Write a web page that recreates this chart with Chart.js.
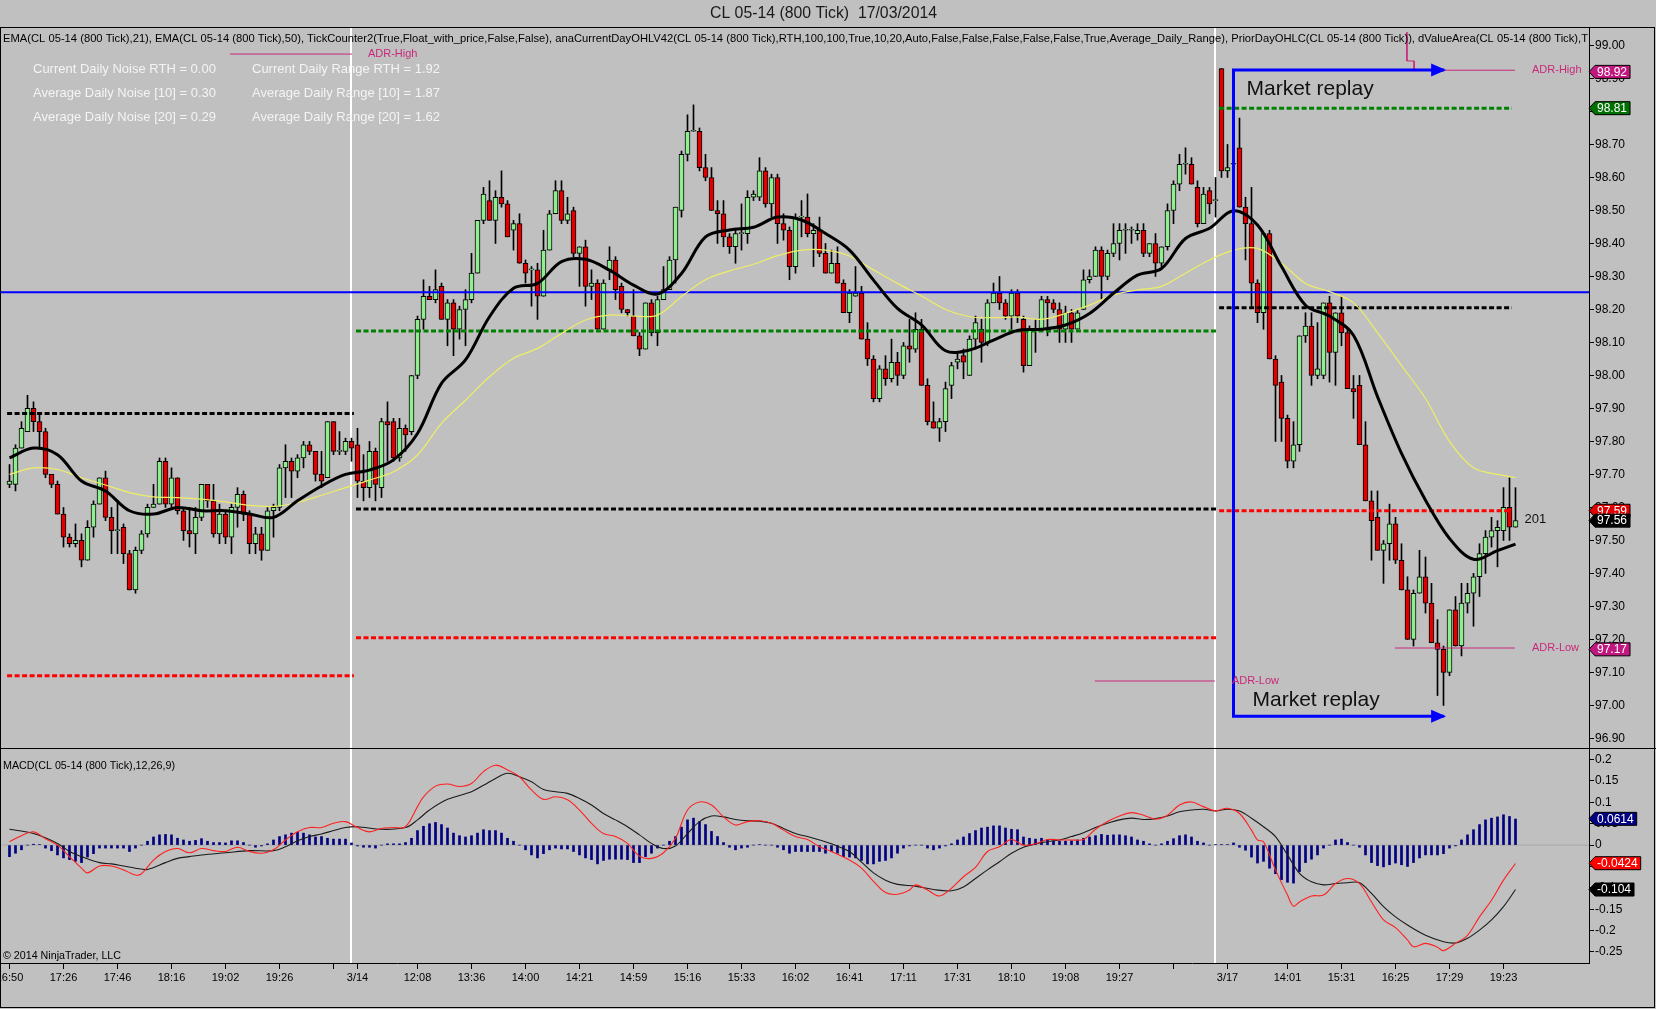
<!DOCTYPE html>
<html lang="en">
<head>
<meta charset="UTF-8">
<title>CL 05-14 (800 Tick) 17/03/2014</title>
<script src="https://cdn.jsdelivr.net/npm/chart.js"></script>
<style>
  html, body { margin: 0; padding: 0; background: #c0c0c0; }
  #chart { display: block; }
</style>
</head>
<body>
<canvas id="chart" width="1656" height="1009"></canvas>
<script>
// ---------- data ----------
const opens = [
  97.67,97.67,97.78,97.83,97.90,97.86,97.83,97.70,97.67,97.58,97.51,97.49,
  97.50,97.44,97.54,97.61,97.69,97.57,97.53,97.54,97.46,97.35,97.47,97.52,
  97.60,97.61,97.74,97.61,97.69,97.59,97.53,97.52,97.57,97.67,97.62,97.52,
  97.58,97.51,97.60,97.64,97.58,97.49,97.52,97.47,97.59,97.60,97.72,97.74,
  97.71,97.75,97.79,97.77,97.70,97.69,97.86,97.77,97.77,97.80,97.79,97.68,
  97.66,97.77,97.66,97.86,97.86,97.75,97.84,97.83,98.00,98.17,98.24,98.23,
  98.27,98.17,98.22,98.14,98.20,98.23,98.31,98.47,98.53,98.47,98.54,98.52,
  98.44,98.46,98.34,98.32,98.32,98.24,98.38,98.49,98.56,98.47,98.50,98.37,
  98.39,98.27,98.28,98.14,98.32,98.35,98.27,98.20,98.18,98.12,98.08,98.22,
  98.13,98.23,98.26,98.35,98.50,98.67,98.74,98.74,98.63,98.60,98.50,98.49,
  98.42,98.39,98.43,98.43,98.54,98.54,98.62,98.52,98.60,98.46,98.44,98.33,
  98.48,98.48,98.43,98.44,98.37,98.31,98.34,98.28,98.19,98.24,98.25,98.11,
  98.05,97.93,98.02,97.99,98.04,98.00,98.09,98.08,98.14,97.97,97.86,97.84,
  97.86,97.97,98.04,98.06,98.00,98.11,98.14,98.10,98.22,98.25,98.22,98.18,
  98.25,98.17,98.03,98.14,98.14,98.23,98.22,98.20,98.14,98.19,98.14,98.20,
  98.29,98.30,98.38,98.30,98.37,98.40,98.44,98.44,98.43,98.44,98.37,98.40,
  98.34,98.39,98.50,98.58,98.64,98.64,98.57,98.46,98.56,98.53,98.93,98.62,
  98.64,98.69,98.51,98.46,98.28,98.19,98.43,98.05,97.98,97.87,97.74,97.79,
  98.12,98.15,98.00,98.00,98.22,98.07,98.19,98.13,97.96,97.97,97.79,97.62,
  97.57,97.47,97.49,97.55,97.44,97.35,97.20,97.34,97.39,97.31,97.19,97.17,
  97.10,97.29,97.18,97.31,97.34,97.39,97.46,97.51,97.53,97.53,97.60,97.54
];
const highs = [
  97.73,97.79,97.86,97.94,97.92,97.88,97.84,97.70,97.68,97.60,97.52,97.55,
  97.52,97.56,97.62,97.69,97.71,97.60,97.62,97.55,97.47,97.48,97.53,97.61,
  97.67,97.75,97.75,97.72,97.69,97.60,97.60,97.60,97.67,97.67,97.67,97.61,
  97.59,97.61,97.66,97.65,97.59,97.54,97.54,97.60,97.61,97.73,97.79,97.75,
  97.76,97.80,97.80,97.77,97.77,97.86,97.86,97.83,97.81,97.81,97.84,97.76,
  97.80,97.78,97.87,97.92,97.87,97.87,97.85,98.00,98.18,98.29,98.27,98.32,
  98.28,98.23,98.23,98.21,98.26,98.37,98.47,98.57,98.59,98.56,98.62,98.53,
  98.47,98.49,98.35,98.33,98.34,98.44,98.50,98.59,98.59,98.54,98.51,98.39,
  98.41,98.32,98.29,98.29,98.39,98.36,98.28,98.20,98.26,98.13,98.22,98.23,
  98.24,98.33,98.36,98.51,98.68,98.79,98.82,98.75,98.67,98.63,98.53,98.53,
  98.43,98.44,98.52,98.56,98.56,98.66,98.63,98.61,98.61,98.49,98.45,98.49,
  98.53,98.55,98.46,98.48,98.40,98.38,98.39,98.29,98.26,98.33,98.27,98.16,
  98.06,98.03,98.06,98.11,98.07,98.10,98.17,98.19,98.17,97.99,97.92,97.87,
  97.98,98.04,98.07,98.08,98.12,98.18,98.17,98.23,98.28,98.30,98.23,98.26,
  98.26,98.18,98.15,98.17,98.24,98.24,98.23,98.22,98.21,98.20,98.20,98.32,
  98.32,98.39,98.39,98.38,98.46,98.46,98.46,98.45,98.46,98.46,98.40,98.43,
  98.39,98.52,98.59,98.67,98.69,98.66,98.59,98.57,98.57,98.60,98.93,98.70,
  98.70,98.78,98.54,98.57,98.29,98.43,98.44,98.06,98.00,97.88,97.86,98.12,
  98.19,98.19,98.16,98.22,98.24,98.19,98.24,98.14,98.00,98.00,97.86,97.65,
  97.65,97.50,97.61,97.57,97.49,97.39,97.35,97.47,97.45,97.37,97.26,97.18,
  97.29,97.33,97.37,97.37,97.40,97.49,97.53,97.57,97.56,97.66,97.69,97.66
];
const lows = [
  97.66,97.65,97.78,97.83,97.83,97.78,97.69,97.66,97.58,97.48,97.48,97.48,
  97.42,97.44,97.51,97.61,97.56,97.46,97.46,97.43,97.35,97.34,97.46,97.51,
  97.60,97.61,97.60,97.60,97.58,97.50,97.48,97.46,97.56,97.60,97.51,97.49,
  97.49,97.46,97.54,97.56,97.46,97.46,97.44,97.47,97.51,97.59,97.63,97.63,
  97.69,97.72,97.76,97.68,97.66,97.69,97.76,97.76,97.76,97.74,97.63,97.62,
  97.63,97.62,97.63,97.74,97.74,97.74,97.77,97.82,97.99,98.14,98.23,98.22,
  98.17,98.09,98.06,98.11,98.09,98.22,98.31,98.46,98.47,98.40,98.51,98.42,
  98.38,98.34,98.28,98.21,98.17,98.24,98.38,98.49,98.46,98.46,98.36,98.27,
  98.21,98.23,98.14,98.14,98.29,98.23,98.19,98.18,98.12,98.06,98.08,98.12,
  98.09,98.23,98.26,98.28,98.48,98.65,98.74,98.62,98.59,98.50,98.40,98.39,
  98.37,98.34,98.38,98.40,98.53,98.53,98.51,98.48,98.40,98.41,98.29,98.31,
  98.42,98.42,98.33,98.36,98.31,98.31,98.28,98.19,98.16,98.24,98.11,98.03,
  97.92,97.92,97.97,97.98,97.97,97.99,98.04,98.07,97.97,97.85,97.84,97.80,
  97.83,97.93,98.02,97.99,98.00,98.08,98.04,98.09,98.22,98.20,98.17,98.14,
  98.16,98.01,98.03,98.07,98.14,98.12,98.19,98.10,98.10,98.10,98.14,98.20,
  98.28,98.30,98.23,98.29,98.36,98.35,98.37,98.40,98.41,98.36,98.36,98.30,
  98.33,98.38,98.46,98.56,98.61,98.58,98.45,98.46,98.49,98.48,98.60,98.60,
  98.62,98.51,98.35,98.21,98.16,98.14,98.05,97.80,97.80,97.72,97.72,97.77,
  98.10,97.97,97.99,97.99,97.98,97.97,98.09,97.96,97.87,97.79,97.62,97.44,
  97.47,97.37,97.44,97.43,97.35,97.20,97.18,97.34,97.28,97.19,97.03,97.00,
  97.09,97.18,97.15,97.28,97.24,97.33,97.40,97.48,97.42,97.50,97.50,97.54
];
const closes = [
  97.68,97.78,97.84,97.90,97.86,97.83,97.70,97.67,97.58,97.51,97.49,97.50,
  97.44,97.54,97.61,97.69,97.57,97.53,97.53,97.46,97.35,97.47,97.52,97.60,
  97.61,97.74,97.61,97.69,97.59,97.53,97.52,97.57,97.67,97.62,97.52,97.58,
  97.51,97.60,97.64,97.58,97.49,97.52,97.47,97.59,97.60,97.72,97.74,97.71,
  97.75,97.79,97.77,97.70,97.68,97.86,97.77,97.77,97.80,97.78,97.68,97.66,
  97.77,97.67,97.86,97.85,97.75,97.84,97.82,98.00,98.17,98.24,98.23,98.26,
  98.17,98.22,98.14,98.20,98.23,98.31,98.47,98.55,98.47,98.54,98.52,98.42,
  98.46,98.34,98.31,98.32,98.24,98.38,98.49,98.56,98.47,98.49,98.37,98.39,
  98.27,98.28,98.14,98.28,98.35,98.26,98.20,98.19,98.12,98.08,98.22,98.13,
  98.23,98.26,98.35,98.51,98.67,98.74,98.74,98.63,98.60,98.50,98.49,98.42,
  98.39,98.43,98.43,98.54,98.55,98.62,98.52,98.60,98.46,98.44,98.33,98.48,
  98.48,98.43,98.44,98.37,98.31,98.34,98.28,98.19,98.25,98.25,98.11,98.05,
  97.93,98.02,97.99,98.04,98.00,98.09,98.08,98.14,97.97,97.86,97.84,97.86,
  97.96,98.03,98.05,98.04,98.11,98.16,98.10,98.22,98.25,98.22,98.18,98.25,
  98.18,98.03,98.14,98.14,98.23,98.22,98.20,98.14,98.19,98.14,98.19,98.29,
  98.30,98.38,98.30,98.37,98.40,98.44,98.44,98.44,98.44,98.37,98.40,98.34,
  98.39,98.50,98.58,98.64,98.64,98.58,98.46,98.55,98.52,98.53,98.62,98.63,
  98.64,98.51,98.46,98.28,98.19,98.43,98.05,97.97,97.87,97.74,97.79,98.12,
  98.15,98.00,98.02,98.22,98.07,98.19,98.13,97.96,97.95,97.79,97.62,97.56,
  97.47,97.49,97.55,97.44,97.35,97.20,97.34,97.39,97.31,97.19,97.17,97.10,
  97.29,97.18,97.31,97.34,97.39,97.46,97.51,97.53,97.54,97.60,97.54,97.56
];

// EMA samples as [bar, price]
const ema21 = [[0,97.75],[4,97.78],[8,97.76],[12,97.68],[16,97.65],[20,97.59],[24,97.58],[28,97.60],[32,97.59],[36,97.59],[40,97.58],[44,97.57],[48,97.62],[52,97.665],[56,97.70],[60,97.713],[64,97.744],[68,97.824],[72,97.976],[76,98.047],[80,98.178],[84,98.264],[88,98.279],[92,98.345],[96,98.352],[100,98.319],[104,98.274],[108,98.247],[112,98.309],[116,98.42],[120,98.441],[124,98.449],[128,98.48],[132,98.471],[136,98.43],[140,98.38],[144,98.289],[148,98.203],[152,98.153],[156,98.075],[160,98.077],[164,98.107],[168,98.136],[172,98.14],[176,98.153],[180,98.188],[184,98.249],[188,98.304],[192,98.324],[196,98.415],[200,98.446],[204,98.499],[208,98.456],[212,98.33],[216,98.213],[220,98.18],[224,98.122],[228,97.936],[232,97.764],[236,97.622],[240,97.506],[244,97.443],[248,97.469],[251,97.489]];
const ema50 = [[0,97.70],[4,97.72],[8,97.715],[12,97.69],[16,97.668],[20,97.645],[24,97.632],[28,97.63],[32,97.625],[36,97.617],[40,97.606],[44,97.603],[48,97.615],[52,97.637],[56,97.66],[60,97.683],[64,97.708],[68,97.759],[72,97.855],[76,97.925],[80,97.996],[84,98.052],[88,98.082],[92,98.127],[96,98.168],[100,98.183],[104,98.18],[108,98.183],[112,98.239],[116,98.29],[120,98.317],[124,98.337],[128,98.363],[132,98.38],[136,98.38],[140,98.362],[144,98.32],[148,98.279],[152,98.241],[156,98.20],[160,98.178],[164,98.175],[168,98.177],[172,98.17],[176,98.188],[180,98.213],[184,98.244],[188,98.259],[192,98.27],[196,98.31],[200,98.35],[204,98.38],[208,98.385],[212,98.34],[216,98.279],[220,98.254],[224,98.22],[228,98.13],[232,98.03],[236,97.93],[240,97.80],[244,97.72],[248,97.70],[251,97.69]];

// MACD(12,26,9): line, signal as [bar, value]; histogram per bar
const macdLine = [[0,0.008],[2,0.022],[4,0.031],[6,0.015],[8,0.0],[10,-0.027],[12,-0.054],[13,-0.065],[15,-0.049],[17,-0.049],[19,-0.058],[21,-0.070],[22,-0.067],[24,-0.035],[26,-0.015],[28,-0.008],[30,-0.018],[32,-0.008],[34,-0.013],[36,-0.015],[38,-0.005],[40,-0.015],[42,-0.019],[44,-0.011],[46,0.012],[48,0.031],[50,0.041],[52,0.041],[54,0.051],[56,0.055],[58,0.041],[60,0.031],[62,0.039],[64,0.041],[66,0.043],[68,0.090],[69,0.113],[71,0.138],[73,0.143],[75,0.137],[77,0.144],[79,0.172],[81,0.187],[83,0.176],[85,0.160],[87,0.129],[89,0.107],[91,0.113],[93,0.106],[95,0.082],[97,0.051],[99,0.027],[101,0.020],[103,0.004],[105,-0.026],[107,-0.031],[109,-0.018],[111,0.016],[113,0.082],[115,0.101],[117,0.094],[119,0.066],[121,0.047],[123,0.055],[125,0.057],[127,0.051],[129,0.035],[131,0.020],[133,0.013],[135,-0.004],[137,-0.015],[140,-0.035],[142,-0.054],[144,-0.085],[146,-0.111],[148,-0.115],[150,-0.105],[151,-0.093],[153,-0.105],[155,-0.119],[157,-0.101],[159,-0.074],[161,-0.052],[163,-0.015],[165,-0.004],[167,0.013],[169,0.0],[171,0.003],[173,0.013],[175,0.012],[177,0.012],[179,0.013],[181,0.037],[183,0.055],[185,0.068],[187,0.076],[189,0.070],[191,0.061],[193,0.070],[195,0.094],[197,0.101],[199,0.090],[201,0.080],[203,0.086],[205,0.074],[207,0.035],[208,0.012],[209,0.008],[211,-0.058],[213,-0.117],[214,-0.143],[215,-0.133],[217,-0.119],[219,-0.117],[221,-0.090],[223,-0.078],[225,-0.090],[227,-0.133],[229,-0.175],[231,-0.193],[233,-0.222],[234,-0.238],[236,-0.230],[238,-0.239],[239,-0.247],[241,-0.230],[243,-0.211],[245,-0.168],[247,-0.129],[249,-0.082],[251,-0.043]];
const macdSignal = [[0,0.037],[4,0.027],[8,0.004],[10,-0.015],[12,-0.027],[15,-0.041],[17,-0.044],[19,-0.049],[21,-0.054],[23,-0.057],[26,-0.041],[28,-0.031],[30,-0.027],[32,-0.023],[36,-0.018],[40,-0.013],[44,-0.013],[46,-0.004],[48,0.010],[50,0.020],[52,0.026],[54,0.034],[56,0.041],[58,0.043],[62,0.037],[66,0.041],[68,0.059],[70,0.082],[73,0.107],[77,0.125],[79,0.140],[81,0.156],[83,0.168],[85,0.160],[87,0.148],[89,0.130],[91,0.125],[93,0.121],[95,0.109],[97,0.094],[99,0.074],[101,0.059],[103,0.043],[105,0.024],[107,0.004],[109,-0.008],[111,-0.002],[113,0.027],[115,0.055],[117,0.068],[119,0.066],[121,0.060],[123,0.057],[125,0.056],[127,0.051],[129,0.039],[131,0.027],[133,0.020],[135,0.012],[137,0.003],[140,-0.015],[142,-0.040],[144,-0.065],[146,-0.082],[148,-0.092],[151,-0.096],[154,-0.104],[157,-0.107],[159,-0.098],[161,-0.078],[163,-0.058],[165,-0.039],[167,-0.019],[169,-0.005],[171,0.003],[173,0.008],[175,0.012],[177,0.020],[179,0.029],[181,0.041],[183,0.051],[185,0.059],[187,0.063],[189,0.060],[191,0.062],[193,0.068],[195,0.078],[197,0.082],[199,0.084],[201,0.080],[203,0.084],[205,0.080],[207,0.063],[209,0.043],[211,0.020],[213,-0.023],[215,-0.066],[217,-0.086],[219,-0.093],[221,-0.090],[223,-0.088],[225,-0.088],[227,-0.113],[229,-0.144],[231,-0.168],[233,-0.187],[236,-0.211],[239,-0.226],[241,-0.229],[243,-0.218],[245,-0.199],[247,-0.175],[249,-0.144],[251,-0.104]];
const macdHist = [
  -0.027,-0.019,-0.011,0,0.002,0.001,-0.007,-0.013,-0.023,-0.030,-0.034,-0.038,
  -0.041,-0.028,-0.020,-0.007,-0.007,-0.007,-0.007,-0.007,-0.015,-0.007,0,0.009,
  0.019,0.024,0.025,0.024,0.016,0.012,0.009,0.011,0.015,0.009,0.006,0.006,
  0.005,0.010,0.010,0.006,0,-0.005,-0.002,0.003,0.012,0.020,0.024,0.028,
  0.030,0.028,0.024,0.019,0.020,0.016,0.014,0.014,0.014,0.005,-0.002,-0.005,
  -0.005,-0.007,0,0.003,0.003,0.003,0.006,0.016,0.034,0.044,0.050,0.053,
  0.048,0.040,0.028,0.022,0.019,0.022,0.028,0.036,0.034,0.034,0.028,0.016,
  0.009,0,-0.011,-0.023,-0.030,-0.020,-0.011,-0.007,-0.009,-0.009,-0.015,-0.023,
  -0.030,-0.034,-0.044,-0.036,-0.033,-0.033,-0.033,-0.034,-0.041,-0.041,-0.027,-0.019,
  -0.007,0,0.009,0.020,0.042,0.059,0.063,0.055,0.048,0.032,0.020,0.006,
  -0.005,-0.011,-0.007,-0.005,0,0.001,0,0,-0.005,-0.011,-0.019,-0.015,
  -0.015,-0.015,-0.015,-0.015,-0.019,-0.015,-0.019,-0.027,-0.028,-0.030,-0.036,-0.044,
  -0.044,-0.038,-0.036,-0.030,-0.019,-0.007,-0.002,0,0,-0.007,-0.011,-0.007,
  -0.002,0.003,0.012,0.019,0.027,0.034,0.040,0.042,0.045,0.045,0.040,0.037,
  0.036,0.019,0.016,0.014,0.016,0.012,0.010,0.009,0.009,0.010,0.012,0.016,
  0.019,0.022,0.025,0.023,0.024,0.024,0.022,0.019,0.012,0.009,0.003,0,
  0.003,0.009,0.015,0.022,0.024,0.019,0.009,0.005,0,0.001,0.001,0.001,
  0.005,-0.005,-0.012,-0.028,-0.042,-0.038,-0.054,-0.067,-0.081,-0.087,-0.089,-0.062,
  -0.041,-0.033,-0.023,-0.007,0,0.012,0.014,0.006,0,-0.005,-0.023,-0.041,
  -0.048,-0.051,-0.046,-0.042,-0.046,-0.050,-0.041,-0.030,-0.023,-0.023,-0.023,-0.020,
  -0.007,-0.002,0.012,0.024,0.036,0.048,0.059,0.063,0.066,0.071,0.067,0.061
];

// session levels (day 1, day 2, day 3) and their bar spans
const sessionSpans = [[-0.4, 57.4], [57.75, 201.25], [201.6, 250.4]];
const sessionBreaks = [56.92, 200.92];
const greenLevels = [null, 98.135, 98.81];
const blackLevels = [97.885, 97.595, 98.205];
const redLevels = [97.09, 97.205, 97.59];
const blueLevel = 98.252;

// ADR high / low markers [bar, price]
const adrHigh1 = [[36.75, 98.974], [57.08, 98.974]];
const adrLow2 = [[180.9, 97.074], [200.9, 97.074]];
const adrHigh3 = [[232.9, 99.04], [232.9, 98.953], [234.1, 98.953], [234.1, 98.925], [250.9, 98.925]];
const adrLow3 = [[230.9, 97.174], [250.9, 97.174]];

// "Market replay" bracket [bar, price]
const replayPath = [[239.1, 98.926], [204.0, 98.926], [204.0, 96.967], [239.1, 96.967]];

// axis ticks
const xTickIdx = [0, 9, 18, 27, 36, 45, 54, 58, 68, 77, 86, 95, 104, 113, 122, 131, 140, 149, 158, 167, 176, 185, 194, 203, 213, 222, 231, 240, 249];
const xTickLabels = ['16:50','17:26','17:46','18:16','19:02','19:26','','3/14','12:08','13:36','14:00','14:21','14:59','15:16','15:33','16:02','16:41','17:11','17:31','18:10','19:08','19:27','','3/17','14:01','15:31','16:25','17:29','19:23'];
const priceTicks = [99.0,98.9,98.8,98.7,98.6,98.5,98.4,98.3,98.2,98.1,98.0,97.9,97.8,97.7,97.6,97.5,97.4,97.3,97.2,97.1,97.0,96.9];
const macdTicks = [0.2, 0.15, 0.1, 0.05, 0, -0.05, -0.1, -0.15, -0.2, -0.25];
const macdTickLabels = ['0.2','0.15','0.1','0.05','0','-0.05','-0.1','-0.15','-0.2','-0.25'];

// right-hand value tags
const priceTagVals = [98.92, 98.81, 97.59, 97.56, 97.17];
const macdTagVals = [0.0614, -0.0424, -0.104];

const titleText = 'CL 05-14 (800 Tick)  17/03/2014';
const headerText = 'EMA(CL 05-14 (800 Tick),21), EMA(CL 05-14 (800 Tick),50), TickCounter2(True,Float_with_price,False,False), anaCurrentDayOHLV42(CL 05-14 (800 Tick),RTH,100,100,True,10,20,Auto,False,False,False,False,False,True,Average_Daily_Range), PriorDayOHLC(CL 05-14 (800 Tick)), dValueArea(CL 05-14 (800 Tick),T';
const infoLeft = ['Current Daily Noise RTH = 0.00', 'Average Daily Noise [10] = 0.30', 'Average Daily Noise [20] = 0.29'];
const infoRight = ['Current Daily Range RTH = 1.92', 'Average Daily Range [10] = 1.87', 'Average Daily Range [20] = 1.62'];
const tickCount = '201';

// ---------- chart ----------
const FONT = '"Liberation Sans", Arial, sans-serif';
Chart.defaults.font.family = FONT;

const pts = arr => arr.map(p => ({ x: p[0], y: p[1] }));
const seg = (a, b, v) => [{ x: a, y: v }, { x: b, y: v }];

const UP = '#90ee90', DOWN = '#e00000';
const bodyColors = closes.map((c, i) => c >= opens[i] ? UP : DOWN);

function levelSet(levels, color) {
  const out = [];
  levels.forEach((v, k) => {
    if (v === null) return;
    out.push({
      type: 'line', data: seg(sessionSpans[k][0], sessionSpans[k][1], v),
      borderColor: color, borderWidth: 3, borderDash: [5, 2.5], pointRadius: 0, order: 5
    });
  });
  return out;
}

function thinLine(data, color, width, order, yAxisID) {
  return { type: 'line', data, borderColor: color, borderWidth: width, pointRadius: 0, order, yAxisID: yAxisID || 'y' };
}

const datasets = [
  // MACD pane
  thinLine(seg(-2, 264, 0), '#a8a8a8', 1, 12, 'm'),
  {
    type: 'bar', yAxisID: 'm', data: macdHist.map((v, i) => ({ x: i, y: v })),
    backgroundColor: '#000080', barThickness: 2, grouped: false, order: 11
  },
  Object.assign(thinLine(pts(macdSignal), '#1a1a1a', 1.1, 4, 'm'), { tension: 0.35 }),
  Object.assign(thinLine(pts(macdLine), '#ff2020', 1.1, 3, 'm'), { tension: 0.35 }),

  // price pane: wicks + bodies
  {
    type: 'bar', data: highs.map((h, i) => ({ x: i, y: [lows[i], h] })),
    backgroundColor: '#000', barThickness: 1, grouped: false, order: 9
  },
  {
    type: 'bar', data: opens.map((o, i) => ({ x: i, y: [o, closes[i]] })),
    backgroundColor: bodyColors, borderColor: '#000', borderWidth: 1, borderSkipped: false,
    barThickness: 5, minBarLength: 1, grouped: false, order: 8
  },

  ...levelSet(greenLevels, '#008000'),
  ...levelSet(blackLevels, '#000000'),
  ...levelSet(redLevels, '#ff0000'),
  thinLine(seg(-2, 264, blueLevel), '#0000ff', 2, 5),

  Object.assign(thinLine(pts(ema50), '#eeee66', 1.2, 4), { tension: 0.35 }),
  Object.assign(thinLine(pts(ema21), '#000000', 3, 3), { tension: 0.35 }),

  thinLine(pts(adrHigh1), '#c8287a', 1, 2),
  thinLine(pts(adrLow2), '#c8287a', 1, 2),
  thinLine(pts(adrHigh3), '#c8287a', 1, 2),
  thinLine(pts(adrLow3), '#c8287a', 1, 2),
  thinLine(pts(replayPath), '#0000ff', 3, 1)
];

function fitText(c, text, x, y, w) {
  const m = c.measureText(text).width;
  c.save();
  c.translate(x, y);
  c.scale(w / m, 1);
  c.fillText(text, 0, 0);
  c.restore();
}

function drawTag(c, x0, y, text, bg) {
  c.font = '12px ' + FONT;
  const w = c.measureText(text).width + 5;
  c.beginPath();
  c.moveTo(x0, y);
  c.lineTo(x0 + 6, y - 6.5);
  c.lineTo(x0 + 6 + w, y - 6.5);
  c.lineTo(x0 + 6 + w, y + 6.5);
  c.lineTo(x0 + 6, y + 6.5);
  c.closePath();
  c.fillStyle = bg;
  c.fill();
  c.strokeStyle = '#000';
  c.lineWidth = 1;
  c.stroke();
  c.fillStyle = '#fff';
  c.textAlign = 'left';
  c.textBaseline = 'middle';
  c.fillText(text, x0 + 8, y + 0.5);
}

const decor = {
  id: 'decor',
  beforeDraw(chart) {
    const c = chart.ctx;
    c.save();
    c.fillStyle = '#c0c0c0';
    c.fillRect(0, 0, chart.width, chart.height);
    c.fillStyle = '#1a1a1a';
    c.font = '16px ' + FONT;
    c.textAlign = 'left';
    c.textBaseline = 'middle';
    fitText(c, titleText, 710, 13.5, 227);
    c.restore();
  },
  beforeDatasetsDraw(chart) {
    const c = chart.ctx, a = chart.chartArea, x = chart.scales.x;
    c.save();
    c.strokeStyle = '#ffffff';
    c.lineWidth = 2;
    sessionBreaks.forEach(b => {
      const px = Math.round(x.getPixelForValue(b));
      c.beginPath();
      c.moveTo(px, a.top);
      c.lineTo(px, a.bottom);
      c.stroke();
    });
    c.restore();
  },
  afterDatasetsDraw(chart) {
    const c = chart.ctx, a = chart.chartArea;
    const x = chart.scales.x, y = chart.scales.y;
    c.save();

    // header line of indicator names
    c.beginPath();
    c.rect(0, a.top, a.right - 1, 30);
    c.clip();
    c.fillStyle = '#000';
    c.font = '11px ' + FONT;
    c.textAlign = 'left';
    c.textBaseline = 'middle';
    fitText(c, headerText, 3, 39, 1585);
    c.restore();

    c.save();
    // white statistics text
    c.fillStyle = '#f4f4f4';
    c.font = '13px ' + FONT;
    c.textAlign = 'left';
    c.textBaseline = 'middle';
    infoLeft.forEach((t, k) => c.fillText(t, 33, 69 + k * 24));
    infoRight.forEach((t, k) => c.fillText(t, 252, 69 + k * 24));

    // ADR labels
    c.fillStyle = '#c8287a';
    c.font = '11px ' + FONT;
    c.fillText('ADR-High', x.getPixelForValue(adrHigh1[1][0]) + 16, y.getPixelForValue(adrHigh1[1][1]));
    c.fillText('ADR-Low', x.getPixelForValue(adrLow2[1][0]) + 17, y.getPixelForValue(adrLow2[1][1]));
    c.fillText('ADR-High', a.right - 57, y.getPixelForValue(adrHigh3[4][1]));
    c.fillText('ADR-Low', a.right - 57, y.getPixelForValue(adrLow3[1][1]));

    // replay arrowheads + captions
    c.fillStyle = '#0000ff';
    [replayPath[0], replayPath[3]].forEach(p => {
      const tx = x.getPixelForValue(p[0]), ty = y.getPixelForValue(p[1]);
      c.beginPath();
      c.moveTo(tx + 2, ty);
      c.lineTo(tx - 13, ty - 6.5);
      c.lineTo(tx - 13, ty + 6.5);
      c.closePath();
      c.fill();
    });
    c.fillStyle = '#111';
    c.font = '21px ' + FONT;
    const topY = y.getPixelForValue(replayPath[1][1]);
    const botY = y.getPixelForValue(replayPath[2][1]);
    const lx = x.getPixelForValue(replayPath[1][0]);
    c.fillText('Market replay', lx + 13, topY + 19);
    c.fillText('Market replay', lx + 19, botY - 16);

    // tick counter
    c.font = '13px ' + FONT;
    c.fillText(tickCount, x.getPixelForValue(251) + 9, y.getPixelForValue(closes[251]) - 1);

    // MACD pane captions
    c.fillStyle = '#000';
    c.font = '11px ' + FONT;
    fitText(c, 'MACD(CL 05-14 (800 Tick),12,26,9)', 3, 766, 172);
    fitText(c, '\u00a9 2014 NinjaTrader, LLC', 3, 956, 118);
    c.restore();
  },
  afterDraw(chart) {
    const c = chart.ctx, a = chart.chartArea;
    const y = chart.scales.y, m = chart.scales.m;
    c.save();
    // frame
    c.strokeStyle = '#000';
    c.lineWidth = 1;
    c.strokeRect(0.5, a.top + 0.5, chart.width - 2, chart.height - a.top - 2);
    c.beginPath();
    const split = Math.round(m.top) + 0.5;
    c.moveTo(0, split);
    c.lineTo(chart.width, split);
    c.stroke();

    // value tags
    const tagColors = ['#c0187e', '#007000', '#e00000', '#000000', '#c0187e'];
    priceTagVals.forEach((v, k) => drawTag(c, a.right, y.getPixelForValue(v), v.toFixed(2), tagColors[k]));
    const mColors = ['#000080', '#ff0000', '#000000'];
    macdTagVals.forEach((v, k) => drawTag(c, a.right, m.getPixelForValue(v), String(v), mColors[k]));
    c.restore();
  }
};

const tickFont = { size: 11, family: FONT };
const axisFont = { size: 12, family: FONT };

new Chart(document.getElementById('chart'), {
  type: 'bar',
  data: { datasets },
  options: {
    responsive: false,
    animation: false,
    events: [],
    layout: { padding: { top: 27, left: 0, right: 0, bottom: 0 } },
    plugins: { legend: { display: false }, tooltip: { enabled: false } },
    scales: {
      x: {
        type: 'linear', min: -1.583, max: 263.25, offset: false,
        grid: { offset: false, drawOnChartArea: false, drawTicks: true, tickLength: 6, color: '#000' },
        border: { display: true, color: '#000' },
        afterBuildTicks: s => { s.ticks = xTickIdx.map(v => ({ value: v })); },
        ticks: { autoSkip: false, maxRotation: 0, padding: 2, color: '#000', font: tickFont,
                 callback: (v, k) => xTickLabels[k] },
        afterFit: s => { s.height = 46; s.paddingLeft = 0; s.paddingRight = 0; }
      },
      y: {
        type: 'linear', position: 'right', stack: 'panes', stackWeight: 721,
        min: 96.871, max: 99.056,
        grid: { drawOnChartArea: false, drawTicks: true, tickLength: 5, color: '#000' },
        border: { display: true, color: '#000' },
        afterBuildTicks: s => { s.ticks = priceTicks.map(v => ({ value: v })); },
        ticks: { autoSkip: false, padding: 1, color: '#000', font: axisFont, callback: v => v.toFixed(2) },
        afterFit: s => { s.width = 67; s.paddingTop = 0; s.paddingBottom = 0; }
      },
      m: {
        type: 'linear', position: 'right', stack: 'panes', stackWeight: 215,
        min: -0.2759, max: 0.2272,
        grid: { drawOnChartArea: false, drawTicks: true, tickLength: 5, color: '#000' },
        border: { display: true, color: '#000' },
        afterBuildTicks: s => { s.ticks = macdTicks.map(v => ({ value: v })); },
        ticks: { autoSkip: false, padding: 1, color: '#000', font: axisFont, callback: (v, k) => macdTickLabels[k] },
        afterFit: s => { s.width = 67; s.paddingTop = 0; s.paddingBottom = 0; }
      }
    }
  },
  plugins: [decor]
});
</script>
</body>
</html>
